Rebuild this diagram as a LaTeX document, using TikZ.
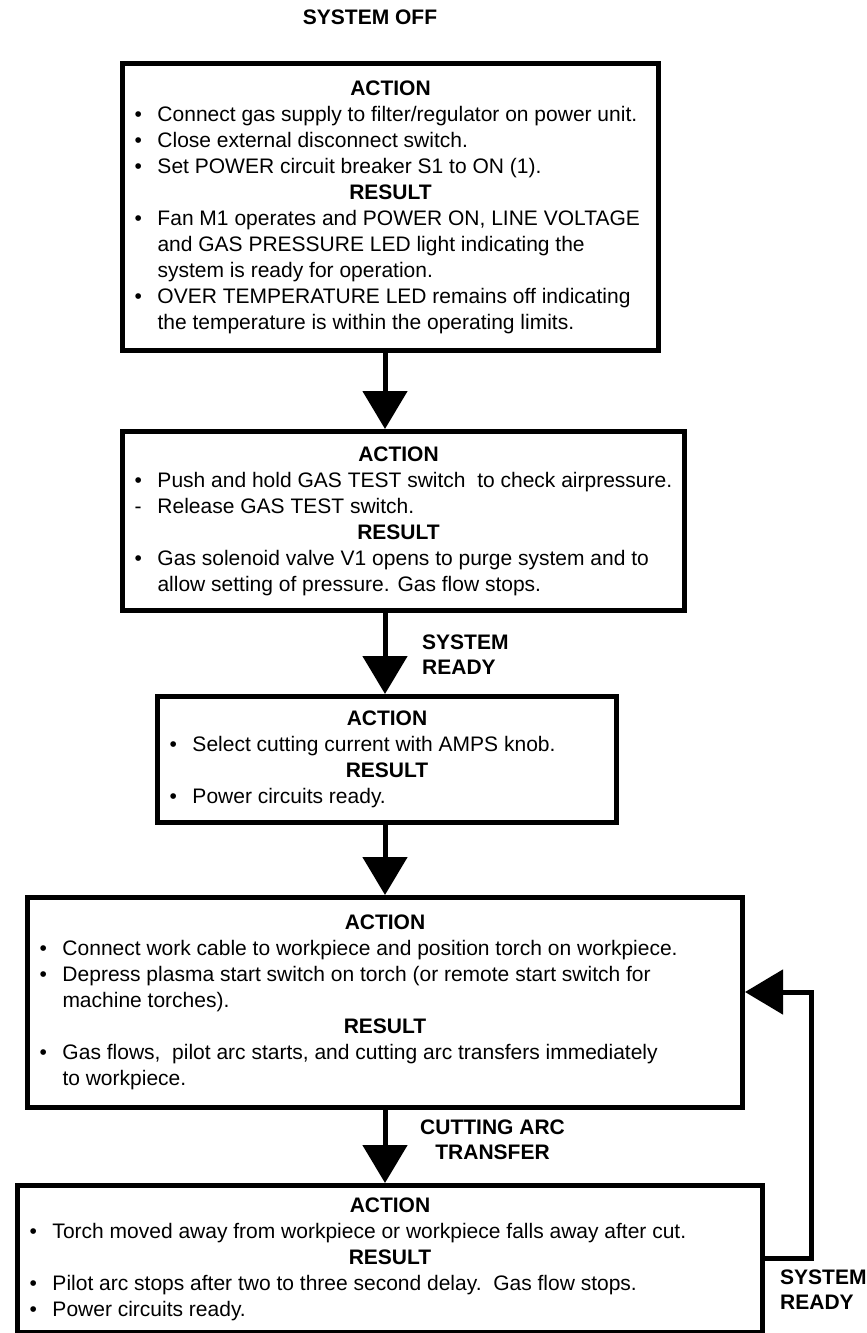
\documentclass[tikz,border=0pt]{standalone}
\usepackage{fontspec}
\setmainfont{Liberation Sans}
\usetikzlibrary{arrows.meta}
\newcommand{\hd}[1]{\hbox to \hsize{\hfil\bfseries #1\hfil}}
\newcommand{\bl}[1]{\hbox{\hbox to 23pt{\textbullet\hfil}#1}}
\newcommand{\dl}[1]{\hbox{\hbox to 23pt{-\hfil}#1}}
\newcommand{\cl}[1]{\hbox{\hskip 23pt #1}}
\newcommand{\content}[2]{\vbox{\hsize=#1\relax\parindent=0pt #2}}
\tikzset{
  box/.style={draw, line width=5pt, inner xsep=12pt, inner ysep=0pt, anchor=north west,
    font=\fontsize{21}{26}\selectfont},
  arr/.style={line width=5pt, -{Triangle[length=38pt, width=44pt]}},
  fb/.style={line width=5pt, line join=miter, -{Triangle[length=38pt, width=44pt]}},
  lbl/.style={inner sep=0pt, font=\bfseries\fontsize{21}{25}\selectfont}
}
\begin{document}
\begin{tikzpicture}[x=1pt,y=1pt]
\useasboundingbox (0,0) rectangle (867,-1333);
\coordinate (sx) at (385,0);

\node[lbl, anchor=north] (off) at (370,-10) {SYSTEM OFF};

\node[box, minimum height=287pt] (b1) at (120,-61) {\content{512pt}{%
\hd{ACTION}
\bl{Connect gas supply to filter/regulator on power unit.}
\bl{Close external disconnect switch.}
\bl{Set POWER circuit breaker S1 to ON (1).}
\hd{RESULT}
\bl{Fan M1 operates and POWER ON, LINE VOLTAGE}
\cl{and GAS PRESSURE LED light indicating the}
\cl{system is ready for operation.}
\bl{OVER TEMPERATURE LED remains off indicating}
\cl{the temperature is within the operating limits.}}};

\node[box, minimum height=179pt] (b2) at (120,-429) {\content{528pt}{%
\hd{ACTION}
\bl{Push and hold GAS TEST switch\ \ to check airpressure.}
\dl{Release GAS TEST switch.}
\hd{RESULT}
\bl{Gas solenoid valve V1 opens to purge system and to}
\cl{allow setting of pressure. Gas flow stops.}}};

\node[box, minimum height=126pt] (b3) at (155,-694) {\content{435pt}{%
\hd{ACTION}
\bl{Select cutting current with AMPS knob.}
\hd{RESULT}
\bl{Power circuits ready.}}};

\node[box, minimum height=210pt] (b4) at (25,-895) {\content{691pt}{%
\hd{ACTION}
\bl{Connect work cable to workpiece and position torch on workpiece.}
\bl{Depress plasma start switch on torch (or remote start switch for}
\cl{machine torches).}
\hd{RESULT}
\bl{Gas flows,\ \ pilot arc starts, and cutting arc transfers immediately}
\cl{to workpiece.}}};

\node[box, minimum height=147pt] (b5) at (15,-1183) {\content{721pt}{%
\hd{ACTION}
\bl{Torch moved away from workpiece or workpiece falls away after cut.}
\hd{RESULT}
\bl{Pilot arc stops after two to three second delay.\ \ Gas flow stops.}
\bl{Power circuits ready.}}};

\draw[arr] (b1.south -| sx) -- (b2.north -| sx);
\draw[arr] (b2.south -| sx) -- (b3.north -| sx);
\draw[arr] (b3.south -| sx) -- (b4.north -| sx);
\draw[arr] (b4.south -| sx) -- (b5.north -| sx);

\node[lbl, anchor=north west, align=left] (rdy1) at (422,-635) {SYSTEM\\READY};
\node[lbl, anchor=north west, align=center] (cat) at (420,-1120) {CUTTING ARC\\TRANSFER};
\node[lbl, anchor=north west, align=left] (rdy2) at (780,-1270) {SYSTEM\\READY};

\coordinate (fbA) at (811,-1258);
\coordinate (fbB) at (811,-992);
\draw[fb] (b5.east |- fbA) -- (fbA) -- (fbB) -- (b4.east |- fbB);
\end{tikzpicture}
\end{document}
